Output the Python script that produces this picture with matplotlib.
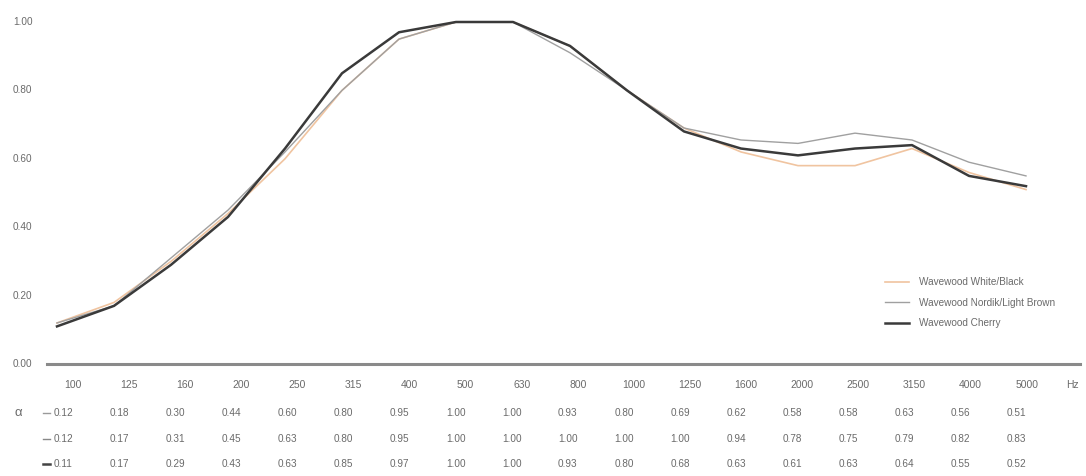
import matplotlib.pyplot as plt
from matplotlib.lines import Line2D

# frequencies (Hz) and absorption coefficients
freqs = ['100', '125', '160', '200', '250', '315', '400', '500', '630', '800',
         '1000', '1250', '1600', '2000', '2500', '3150', '4000', '5000']

# values as drawn in the curves
white_black = [0.12, 0.18, 0.30, 0.44, 0.60, 0.80, 0.95, 1.00, 1.00, 0.93,
               0.80, 0.69, 0.62, 0.58, 0.58, 0.63, 0.56, 0.51]
nordik = [0.12, 0.17, 0.31, 0.45, 0.62, 0.80, 0.95, 1.00, 1.00, 0.91,
          0.80, 0.69, 0.655, 0.645, 0.675, 0.655, 0.59, 0.55]
cherry = [0.11, 0.17, 0.29, 0.43, 0.63, 0.85, 0.97, 1.00, 1.00, 0.93,
          0.80, 0.68, 0.63, 0.61, 0.63, 0.64, 0.55, 0.52]

# values as printed in the table below the chart
table_rows = [
    ['0.12', '0.18', '0.30', '0.44', '0.60', '0.80', '0.95', '1.00', '1.00', '0.93',
     '0.80', '0.69', '0.62', '0.58', '0.58', '0.63', '0.56', '0.51'],
    ['0.12', '0.17', '0.31', '0.45', '0.63', '0.80', '0.95', '1.00', '1.00', '1.00',
     '1.00', '1.00', '0.94', '0.78', '0.75', '0.79', '0.82', '0.83'],
    ['0.11', '0.17', '0.29', '0.43', '0.63', '0.85', '0.97', '1.00', '1.00', '0.93',
     '0.80', '0.68', '0.63', '0.61', '0.63', '0.64', '0.55', '0.52'],
]

series_names = ['Wavewood White/Black', 'Wavewood Nordik/Light Brown', 'Wavewood Cherry']
series_colors = ['#f0c4a0', '#a0a0a0', '#3a3a3a']
series_widths = [1.2, 1.0, 1.8]
yticks = [0.0, 0.2, 0.4, 0.6, 0.8, 1.0]

FONT = ['Liberation Sans', 'DejaVu Sans']
TXT = '#6a6a6a'
W, H = 1086, 476

fig = plt.figure(figsize=(W / 100, H / 100), dpi=100)

# main curve axes (pixel box: x 47..1080, y 22..364)
ax = fig.add_axes([47 / W, (H - 364) / H, (1080 - 47) / W, (364 - 22) / H])
x = list(range(len(freqs)))
for vals, name, c, lw in zip([white_black, nordik, cherry], series_names,
                             series_colors, series_widths):
    ax.plot(x, vals, color=c, lw=lw, label=name, clip_on=False, zorder=3)
ax.set_xlim((47 - 57) / 57, (1080 - 57) / 57)
ax.set_ylim(0, 1)
ax.axhline(0, color='#8a8a8a', lw=2.2, zorder=2, clip_on=False)
for s in ax.spines.values():
    s.set_visible(False)
ax.set_xticks([])
ax.set_yticks([])

handles = [Line2D([], [], color=c, lw=lw) for c, lw in zip(series_colors, series_widths)]
ax.legend(handles, series_names, loc='upper left', bbox_to_anchor=(876 / W, (H - 268) / H),
          bbox_transform=fig.transFigure, frameon=False, handlelength=2.4,
          handletextpad=1.0, labelspacing=1.05,
          prop={'family': FONT, 'size': 7.2}, labelcolor=TXT)

# table axes in pixel coordinates
tab = fig.add_axes([0, 0, 1, 1])
tab.set_xlim(0, W)
tab.set_ylim(H, 0)
tab.axis('off')

for t in yticks:
    tab.text(13, 364 - 342 * t, f'{t:.2f}', fontsize=7.2, color=TXT, family=FONT,
             va='center', ha='left')

label_x = [73 + 56.1 * i for i in range(len(freqs))]
for lx, f in zip(label_x, freqs):
    tab.text(lx, 385, f, fontsize=7.5, color=TXT, family=FONT, ha='center', va='center')
tab.text(1072, 385, 'Hz', fontsize=7.5, color=TXT, family=FONT, ha='center', va='center')
tab.text(18, 413, 'α', fontsize=9.5, color=TXT, family=FONT, ha='center', va='center')

row_y = [413, 439, 464]
dash_colors = ['#9a9a9a', '#888888', '#444444']
dash_widths = [1.0, 1.0, 1.8]
for ry, row, dc, dw in zip(row_y, table_rows, dash_colors, dash_widths):
    tab.plot([43, 50], [ry, ry], color=dc, lw=dw)
    for lx, v in zip(label_x, row):
        tab.text(lx - 10, ry, v, fontsize=7.2, color=TXT, family=FONT,
                 ha='center', va='center')

fig.savefig('out.png', dpi=100)
